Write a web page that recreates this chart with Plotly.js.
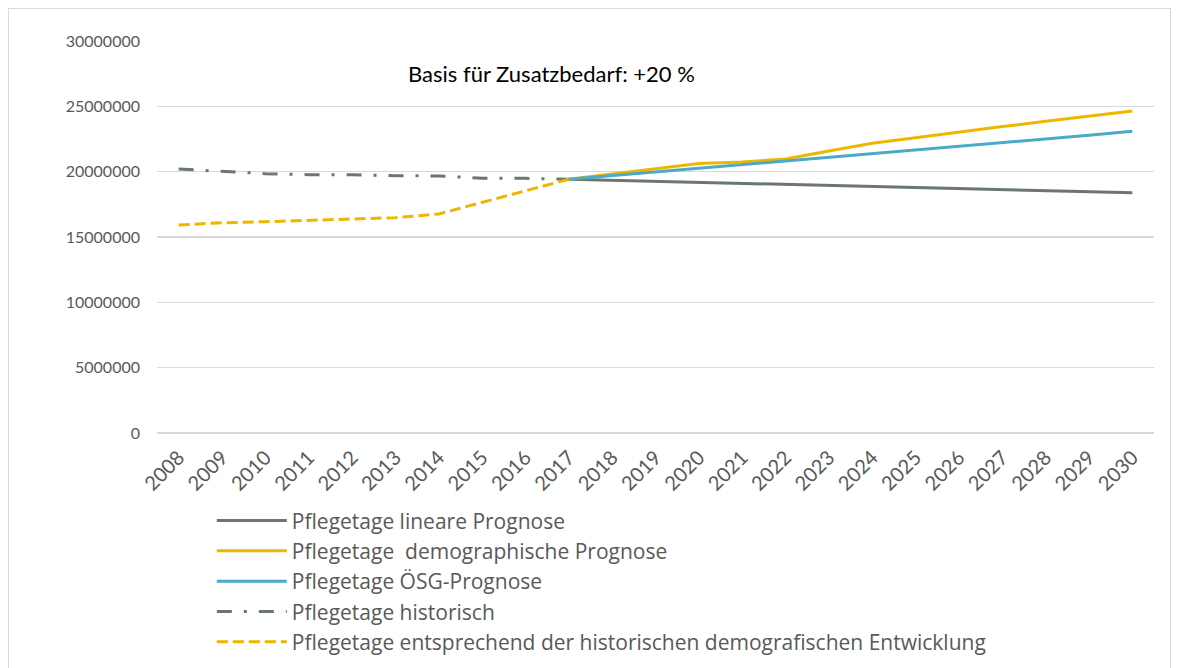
<!DOCTYPE html>
<html>
<head>
<meta charset="utf-8">
<script src="https://cdn.plot.ly/plotly-3.0.1.min.js"></script>
<style>
  html, body { margin: 0; padding: 0; background: #ffffff; }
  #chart { width: 1178px; height: 668px; }
  #frame { position: absolute; left: 8px; top: 8px; width: 1163px; height: 680px;
           border: 1.5px solid #d9d9d9; pointer-events: none; box-sizing: border-box; }
</style>
</head>
<body>
<div id="chart"></div>
<div id="frame"></div>
<script>
const years = ["2008","2009","2010","2011","2012","2013","2014","2015","2016","2017","2018","2019",
               "2020","2021","2022","2023","2024","2025","2026","2027","2028","2029","2030"];

const forecastYears = years.slice(9);   // 2017 - 2030
const historicYears = years.slice(0, 10); // 2008 - 2017

const linearForecast = [19420000, 19340000, 19260000, 19180000, 19100000, 19020000, 18940000,
                        18860000, 18790000, 18710000, 18630000, 18550000, 18470000, 18390000];
const demographicForecast = [19420000, 19820000, 20230000, 20620000, 20740000, 20970000, 21580000,
                             22170000, 22600000, 23050000, 23450000, 23850000, 24250000, 24640000];
const oesgForecast = [19420000, 19700000, 19960000, 20220000, 20510000, 20800000, 21080000,
                      21340000, 21620000, 21910000, 22200000, 22500000, 22790000, 23090000];
const historic = [20200000, 20000000, 19850000, 19770000, 19770000, 19690000, 19670000,
                  19500000, 19490000, 19420000];
const historicDemographic = [15920000, 16090000, 16170000, 16280000, 16350000, 16480000, 16760000,
                             17630000, 18540000, 19420000];

const names = ["Pflegetage lineare Prognose",
               "Pflegetage  demographische Prognose",
               "Pflegetage ÖSG-Prognose",
               "Pflegetage historisch",
               "Pflegetage entsprechend der historischen demografischen Entwicklung"];

const gray = "#6a776f", gold = "#edb700", blue = "#4aaac8";

const traces = [
  {x: forecastYears, y: linearForecast, name: names[0], mode: "lines",
   line: {color: gray, width: 3}},
  {x: forecastYears, y: demographicForecast, name: names[1], mode: "lines",
   line: {color: gold, width: 3}},
  {x: forecastYears, y: oesgForecast, name: names[2], mode: "lines",
   line: {color: blue, width: 3}},
  {x: historicYears, y: historic, name: names[3], mode: "lines",
   line: {color: gray, width: 3, dash: "15px,12px,3px,12px"}},
  {x: historicYears, y: historicDemographic, name: names[4], mode: "lines",
   line: {color: gold, width: 3, dash: "11px,5px"}}
];

const layout = {
  width: 1178, height: 668,
  margin: {l: 157, r: 24, t: 41, b: 235, autoexpand: false},
  paper_bgcolor: "#ffffff", plot_bgcolor: "#ffffff",
  font: {family: "Lato, sans-serif", color: "#595959", size: 16},
  showlegend: true,
  legend: {
    x: 0.055, y: -0.172, xanchor: "left", yanchor: "top",
    orientation: "v", traceorder: "normal",
    font: {family: "'Open Sans', sans-serif", size: 21, color: "#595959"},
    bgcolor: "rgba(0,0,0,0)", itemwidth: 70
  },
  xaxis: {
    type: "category", categoryorder: "array", categoryarray: years,
    range: [-0.5, 22.5], tickangle: -45, showgrid: false, zeroline: false,
    showline: false, ticks: "", ticklabelstandoff: 8, automargin: false,
    tickfont: {family: "Lato, sans-serif", size: 20, color: "#595959"}
  },
  yaxis: {
    range: [0, 30000000], dtick: 5000000, tick0: 0, tickformat: "d",
    showgrid: true, gridcolor: "#d9d9d9", gridwidth: 1.5,
    zeroline: true, zerolinecolor: "#d9d9d9", zerolinewidth: 1.5,
    showline: false, ticks: "", ticklabelstandoff: 16, automargin: false,
    tickfont: {family: "Lato, sans-serif", size: 16, color: "#595959"}
  },
  annotations: [{
    text: "Basis für Zusatzbedarf: +20 %", xref: "paper", yref: "paper",
    x: 0.396, y: 0.918, xanchor: "center", yanchor: "middle", showarrow: false,
    font: {family: "Lato, sans-serif", size: 22, color: "#000000"}
  }]
};

Plotly.newPlot("chart", traces, layout, {displayModeBar: false, staticPlot: true});
</script>
</body>
</html>
